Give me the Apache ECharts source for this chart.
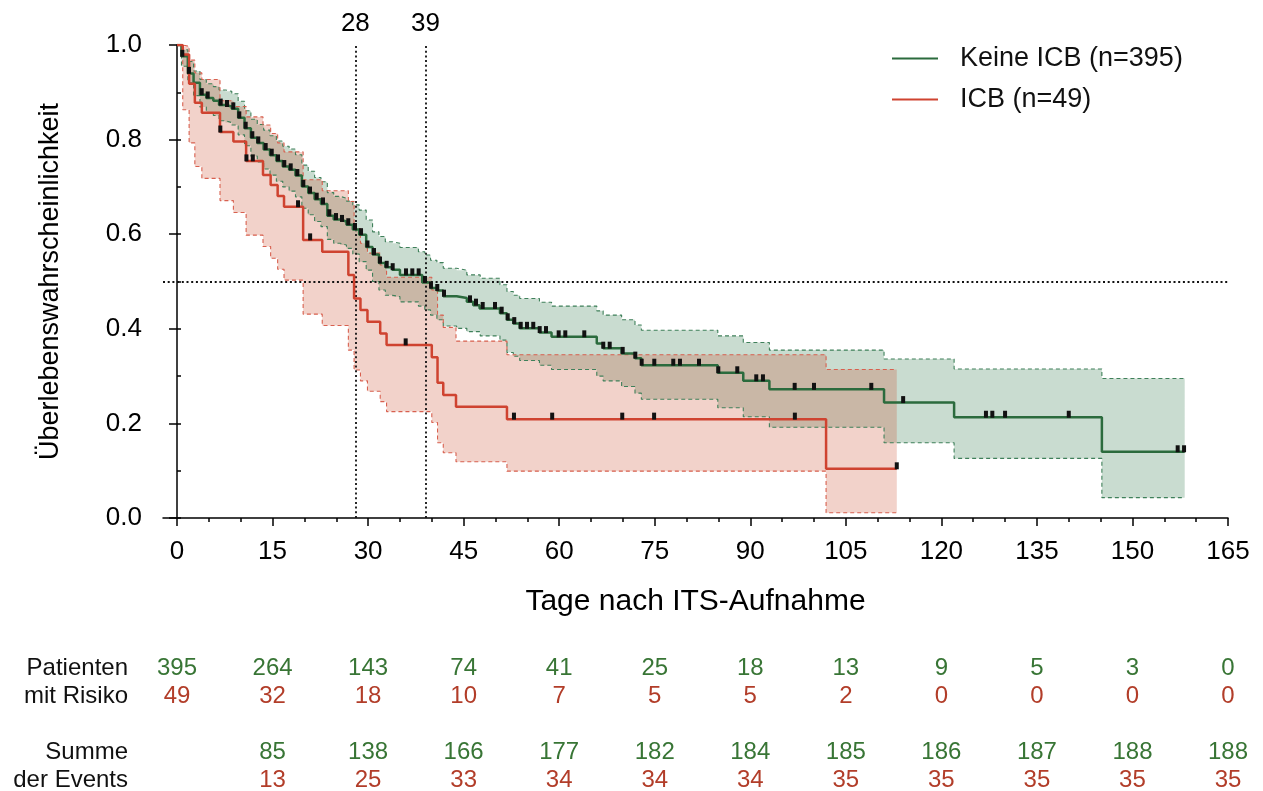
<!DOCTYPE html>
<html lang="de">
<head>
    <meta charset="UTF-8">
    <title>Kaplan-Meier ICB</title>
    <script src="https://cdn.jsdelivr.net/npm/echarts@6.0.0/dist/echarts.min.js"></script>
    <style>
        html, body { margin: 0; padding: 0; background: #fff; }
        #chart { width: 1263px; height: 791px; }
    </style>
</head>
<body>
    <div id="chart"></div>

    <script>
        // Axis ticks
        const xTicks = [0, 15, 30, 45, 60, 75, 90, 105, 120, 135, 150, 165];
        const xMinorTicks = [0, 5, 10, 15, 20, 25, 30, 35, 40, 45, 50, 55, 60, 65, 70, 75, 80, 85, 90, 95, 100, 105, 110, 115, 120, 125, 130, 135, 140, 145, 150, 155, 160, 165];
        const medianDays = [28, 39];

        // Keine ICB: KM curve (step starts), CI band, censored
        const gDays = [0, 0.7, 1.7, 2.6, 3.6, 4.6, 5.7, 6.6, 7.6, 8.6, 9.6, 10.6, 11.6, 12.6, 13.6, 14.6, 15.6, 16.6, 17.6, 18.6, 19.6, 20.6, 21.6, 22.6, 23.6, 24.6, 25.6, 26.6, 27.6, 28.6, 29.7, 30.7, 31.7, 32.7, 33.8, 35.0, 38.5, 39.8, 40.8, 41.8, 43.9, 45.5, 46.5, 47.5, 50.7, 51.8, 52.8, 53.8, 56.9, 58.8, 65.9, 66.9, 69.8, 71.9, 72.9, 84.9, 88.9, 93.0, 111.0, 122.0, 145.2, 158.2];
        const gSurv = [1, 0.976, 0.94, 0.92, 0.895, 0.888, 0.882, 0.873, 0.87, 0.865, 0.846, 0.824, 0.804, 0.793, 0.779, 0.767, 0.755, 0.743, 0.736, 0.724, 0.701, 0.687, 0.674, 0.664, 0.639, 0.631, 0.627, 0.62, 0.61, 0.599, 0.573, 0.557, 0.539, 0.53, 0.525, 0.514, 0.498, 0.486, 0.481, 0.469, 0.465, 0.457, 0.45, 0.443, 0.433, 0.419, 0.411, 0.401, 0.392, 0.383, 0.369, 0.359, 0.348, 0.338, 0.323, 0.307, 0.29, 0.272, 0.244, 0.213, 0.14, 0.14];
        const gBandDays = [0, 0.7, 1.7, 2.6, 3.6, 4.6, 5.7, 6.6, 7.6, 8.6, 9.6, 10.6, 11.6, 12.6, 13.6, 14.6, 15.6, 16.6, 17.6, 18.6, 19.6, 20.6, 21.6, 22.6, 23.6, 24.6, 25.6, 26.6, 27.6, 28.6, 29.7, 30.7, 31.7, 32.7, 33.8, 35.0, 37.9, 38.9, 39.8, 40.8, 41.8, 43.9, 45.5, 47.6, 50.7, 51.8, 52.8, 53.8, 56.9, 58.8, 65.9, 66.9, 69.8, 71.9, 72.9, 84.9, 88.9, 93.0, 111.0, 122.0, 145.2, 158.2];
        const gUpper = [1, 0.99, 0.965, 0.945, 0.927, 0.918, 0.912, 0.905, 0.902, 0.897, 0.881, 0.861, 0.843, 0.832, 0.82, 0.808, 0.797, 0.786, 0.78, 0.768, 0.746, 0.733, 0.72, 0.711, 0.688, 0.68, 0.676, 0.67, 0.662, 0.651, 0.63, 0.605, 0.595, 0.584, 0.581, 0.572, 0.563, 0.556, 0.545, 0.54, 0.528, 0.524, 0.514, 0.507, 0.493, 0.479, 0.471, 0.464, 0.456, 0.448, 0.438, 0.429, 0.419, 0.408, 0.397, 0.385, 0.371, 0.355, 0.336, 0.315, 0.295, 0.295];
        const gLower = [1, 0.955, 0.92, 0.893, 0.869, 0.857, 0.851, 0.84, 0.836, 0.831, 0.81, 0.787, 0.765, 0.753, 0.738, 0.725, 0.712, 0.7, 0.691, 0.679, 0.655, 0.641, 0.627, 0.616, 0.589, 0.581, 0.577, 0.57, 0.558, 0.542, 0.524, 0.5, 0.482, 0.471, 0.468, 0.457, 0.448, 0.44, 0.429, 0.419, 0.406, 0.401, 0.394, 0.385, 0.376, 0.35, 0.342, 0.333, 0.323, 0.314, 0.3, 0.29, 0.278, 0.264, 0.251, 0.233, 0.214, 0.192, 0.159, 0.126, 0.043, 0.043];
        const gCensorDays = [0.83, 1.88, 3.88, 4.82, 6.86, 7.85, 8.84, 9.78, 10.78, 11.82, 12.76, 13.92, 14.87, 15.86, 16.84, 17.85, 18.89, 19.83, 20.88, 21.93, 22.92, 23.91, 24.96, 25.9, 26.89, 27.94, 28.89, 29.9, 30.93, 31.87, 32.92, 33.86, 35.95, 36.94, 37.94, 38.93, 39.87, 40.86, 41.92, 46.0, 46.94, 47.99, 49.92, 50.97, 51.92, 52.95, 53.96, 54.95, 55.93, 56.94, 57.93, 59.92, 60.96, 63.94, 66.92, 67.93, 69.97, 71.95, 72.95, 74.93, 77.91, 78.96, 81.95, 84.98, 87.96, 90.94, 91.99, 96.97, 100.0, 109.0, 114.0, 127.0, 128.0, 130.0, 140.0, 157.1, 158.1];
        const gCensorSurv = [0.976, 0.94, 0.895, 0.888, 0.873, 0.87, 0.865, 0.846, 0.824, 0.804, 0.793, 0.779, 0.767, 0.755, 0.743, 0.736, 0.724, 0.701, 0.687, 0.674, 0.664, 0.639, 0.631, 0.627, 0.62, 0.61, 0.599, 0.573, 0.557, 0.539, 0.53, 0.525, 0.514, 0.514, 0.514, 0.498, 0.486, 0.481, 0.469, 0.457, 0.45, 0.443, 0.443, 0.433, 0.419, 0.411, 0.401, 0.401, 0.401, 0.392, 0.392, 0.383, 0.383, 0.383, 0.359, 0.359, 0.348, 0.338, 0.323, 0.323, 0.323, 0.323, 0.323, 0.307, 0.307, 0.29, 0.29, 0.272, 0.272, 0.272, 0.244, 0.213, 0.213, 0.213, 0.213, 0.14, 0.14];

        // ICB: KM curve, CI band, censored
        const rDays = [0, 0.9, 1.9, 2.8, 3.9, 6.75, 8.85, 10.85, 13.5, 14.7, 15.8, 16.8, 19.8, 22.8, 26.9, 27.8, 28.8, 29.9, 31.9, 32.9, 40.0, 40.9, 41.8, 43.8, 51.8, 101.9, 113.0];
        const rSurv = [1, 0.98, 0.918, 0.878, 0.857, 0.816, 0.796, 0.755, 0.725, 0.704, 0.681, 0.658, 0.588, 0.563, 0.514, 0.464, 0.44, 0.415, 0.39, 0.366, 0.34, 0.286, 0.26, 0.235, 0.209, 0.104, 0.104];
        const rUpper = [1, 0.997, 0.968, 0.941, 0.927, 0.882, 0.87, 0.848, 0.831, 0.813, 0.793, 0.774, 0.715, 0.692, 0.669, 0.612, 0.581, 0.56, 0.535, 0.509, 0.482, 0.429, 0.403, 0.374, 0.345, 0.314, 0.314];
        const rLower = [1, 0.863, 0.793, 0.743, 0.718, 0.671, 0.646, 0.598, 0.574, 0.549, 0.526, 0.503, 0.431, 0.407, 0.355, 0.313, 0.29, 0.268, 0.246, 0.225, 0.202, 0.159, 0.138, 0.119, 0.099, 0.011, 0.011];
        const rCensorDays = [6.8, 10.9, 11.9, 19.0, 20.9, 35.9, 52.9, 58.9, 69.9, 74.9, 97.0, 113.0];
        const rCensorSurv = [0.816, 0.755, 0.755, 0.658, 0.588, 0.366, 0.209, 0.209, 0.209, 0.209, 0.209, 0.104];

        // Risk table
        const rowLabels = ['Patienten', 'mit Risiko', '', 'Summe', 'der Events'];
        const riskKeine = [395, 264, 143, 74, 41, 25, 18, 13, 9, 5, 3, 0];
        const riskICB = [49, 32, 18, 10, 7, 5, 5, 2, 0, 0, 0, 0];
        const eventsKeine = [null, 85, 138, 166, 177, 182, 184, 185, 186, 187, 188, 188];
        const eventsICB = [null, 13, 25, 33, 34, 34, 34, 35, 35, 35, 35, 35];

        const GREEN = '#2b6b3d';
        const RED = '#cf4330';
        const GREEN_TXT = '#387535';
        const RED_TXT = '#b23d29';
        const FONT = 'Liberation Sans, Arial, Helvetica, sans-serif';
        const X_MIN = -2.2;

        const chart = echarts.init(document.getElementById('chart'));

        function pairs(xs, ys) {
            return xs.map((x, i) => [x, ys[i]]);
        }

        // filled step band drawn as one polygon through the axis scales
        function bandFill(days, up, lo, fill, z) {
            return {
                type: 'custom',
                xAxisIndex: 0,
                yAxisIndex: 0,
                silent: true,
                z: z,
                data: days.map((d, i) => [d, up[i], lo[i]]),
                encode: { x: 0, y: [1, 2] },
                renderItem: function (params, api) {
                    if (params.dataIndex !== 0) return null;
                    const top = [], bot = [];
                    for (let i = 0; i < days.length; i++) {
                        top.push(api.coord([days[i], up[i]]));
                        bot.push(api.coord([days[i], lo[i]]));
                        if (i < days.length - 1) {
                            top.push(api.coord([days[i + 1], up[i]]));
                            bot.push(api.coord([days[i + 1], lo[i]]));
                        }
                    }
                    return {
                        type: 'polygon',
                        shape: { points: top.concat(bot.reverse()) },
                        style: { fill: fill }
                    };
                }
            };
        }

        function dashedEdge(days, vals, color, z) {
            return {
                type: 'line',
                xAxisIndex: 0,
                yAxisIndex: 0,
                step: 'end',
                symbol: 'none',
                silent: true,
                z: z,
                data: pairs(days, vals),
                lineStyle: { color: color, width: 1.1, type: [4, 3] }
            };
        }

        // one row of numbers in the table under the plot
        function riskRow(values, row, color) {
            const data = [];
            values.forEach((v, i) => {
                if (v !== null) data.push([xTicks[i], row, v]);
            });
            return {
                type: 'scatter',
                xAxisIndex: 2,
                yAxisIndex: 2,
                symbol: 'circle',
                symbolSize: 2,
                itemStyle: { color: 'transparent', opacity: 1 },
                silent: true,
                z: 10,
                data: data,
                labelLayout: { hideOverlap: false },
                label: {
                    show: true,
                    position: 'inside',
                    formatter: p => String(p.value[2]),
                    fontSize: 24,
                    fontFamily: FONT,
                    color: color,
                    opacity: 1
                }
            };
        }

        const dotted = { color: '#111', width: 1.8, type: [2, 2.7] };

        chart.setOption({
            animation: false,
            textStyle: { fontFamily: FONT },
            grid: [
                { left: 163, right: 35, top: 45, bottom: 273, outerBoundsMode: 'none' },
                { left: 163, right: 35, top: 654, height: 140, outerBoundsMode: 'none' }
            ],
            legend: {
                data: [
                    { name: 'Keine ICB (n=395)', icon: 'rect' },
                    { name: 'ICB (n=49)', icon: 'rect' }
                ],
                orient: 'vertical',
                left: 887,
                top: 40,
                itemWidth: 46,
                itemHeight: 2,
                itemGap: 14,
                selectedMode: false,
                textStyle: { fontSize: 27, color: '#111', padding: [0, 0, 0, 17] }
            },
            xAxis: [
                {
                    type: 'value',
                    gridIndex: 0,
                    min: X_MIN,
                    max: 165,
                    position: 'bottom',
                    axisLine: { show: true, lineStyle: { color: '#000', width: 1.5 } },
                    axisTick: { show: true, customValues: xTicks, length: 8, lineStyle: { color: '#000', width: 1.5 } },
                    axisLabel: { customValues: xTicks, fontSize: 26, color: '#000', margin: 21 },
                    splitLine: { show: false },
                    name: 'Tage nach ITS-Aufnahme',
                    nameLocation: 'middle',
                    nameGap: 69,
                    nameTextStyle: { fontSize: 30, color: '#000' }
                },
                {
                    type: 'value',
                    gridIndex: 0,
                    min: X_MIN,
                    max: 165,
                    position: 'bottom',
                    axisLine: { show: false },
                    axisTick: { show: true, customValues: xMinorTicks, length: 4, lineStyle: { color: '#000', width: 1.5 } },
                    axisLabel: { show: false },
                    splitLine: { show: false }
                },
                {
                    type: 'value',
                    gridIndex: 1,
                    min: X_MIN,
                    max: 165,
                    axisLine: { show: false },
                    axisTick: { show: false },
                    axisLabel: { show: false },
                    splitLine: { show: false }
                }
            ],
            yAxis: [
                {
                    type: 'value',
                    gridIndex: 0,
                    min: 0,
                    max: 1,
                    interval: 0.2,
                    axisLine: { show: true, lineStyle: { color: '#000', width: 1.5 } },
                    axisTick: { show: true, length: 8, lineStyle: { color: '#000', width: 1.5 } },
                    axisLabel: { formatter: v => v.toFixed(1), fontSize: 26, color: '#000', margin: 21 },
                    splitLine: { show: false },
                    name: 'Überlebenswahrscheinlichkeit',
                    nameLocation: 'middle',
                    nameGap: 99,
                    nameTextStyle: { fontSize: 27, color: '#000' }
                },
                {
                    type: 'value',
                    gridIndex: 0,
                    min: 0,
                    max: 1,
                    interval: 0.1,
                    axisLine: { show: false },
                    axisTick: { show: true, length: 4, lineStyle: { color: '#000', width: 1.5 } },
                    axisLabel: { show: false },
                    splitLine: { show: false }
                },
                {
                    type: 'category',
                    gridIndex: 1,
                    data: rowLabels,
                    inverse: true,
                    axisLine: { show: false },
                    axisTick: { show: false },
                    axisLabel: { interval: 0, fontSize: 24, color: '#111', margin: 35 },
                    splitLine: { show: false }
                }
            ],
            series: [
                bandFill(gBandDays, gUpper, gLower, 'rgba(39,115,67,0.25)', 1),
                bandFill(rDays, rUpper, rLower, 'rgba(203,75,43,0.25)', 2),
                dashedEdge(gBandDays, gUpper, '#3f805a', 3),
                dashedEdge(gBandDays, gLower, '#3f805a', 3),
                dashedEdge(rDays, rUpper, '#d8604f', 3),
                dashedEdge(rDays, rLower, '#d8604f', 3),
                {
                    name: 'Keine ICB (n=395)',
                    type: 'line',
                    xAxisIndex: 0,
                    yAxisIndex: 0,
                    step: 'end',
                    symbol: 'none',
                    z: 5,
                    color: GREEN,
                    itemStyle: { color: GREEN },
                    lineStyle: { color: GREEN, width: 2.5 },
                    data: pairs(gDays, gSurv),
                    markLine: {
                        silent: true,
                        symbol: ['none', 'none'],
                        lineStyle: dotted,
                        label: { show: false },
                        data: [
                            { yAxis: 0.5 },
                            ...medianDays.map(d => ({
                                xAxis: d,
                                label: { show: true, position: 'end', formatter: String(d), fontSize: 26, color: '#000', distance: 8 }
                            }))
                        ]
                    }
                },
                {
                    name: 'ICB (n=49)',
                    type: 'line',
                    xAxisIndex: 0,
                    yAxisIndex: 0,
                    step: 'end',
                    symbol: 'none',
                    z: 6,
                    color: RED,
                    itemStyle: { color: RED },
                    lineStyle: { color: RED, width: 2.5 },
                    data: pairs(rDays, rSurv)
                },
                {
                    type: 'scatter',
                    xAxisIndex: 0,
                    yAxisIndex: 0,
                    symbol: 'rect',
                    symbolSize: [4, 7],
                    symbolOffset: [0, -3],
                    z: 8,
                    silent: true,
                    itemStyle: { color: '#111', opacity: 1 },
                    data: pairs(gCensorDays, gCensorSurv)
                },
                {
                    type: 'scatter',
                    xAxisIndex: 0,
                    yAxisIndex: 0,
                    symbol: 'rect',
                    symbolSize: [4, 7],
                    symbolOffset: [0, -3],
                    z: 8,
                    silent: true,
                    itemStyle: { color: '#111', opacity: 1 },
                    data: pairs(rCensorDays, rCensorSurv)
                },
                riskRow(riskKeine, 0, GREEN_TXT),
                riskRow(riskICB, 1, RED_TXT),
                riskRow(eventsKeine, 3, GREEN_TXT),
                riskRow(eventsICB, 4, RED_TXT)
            ]
        });

        window.addEventListener('resize', function () {
            chart.resize();
        });
    </script>
</body>
</html>
